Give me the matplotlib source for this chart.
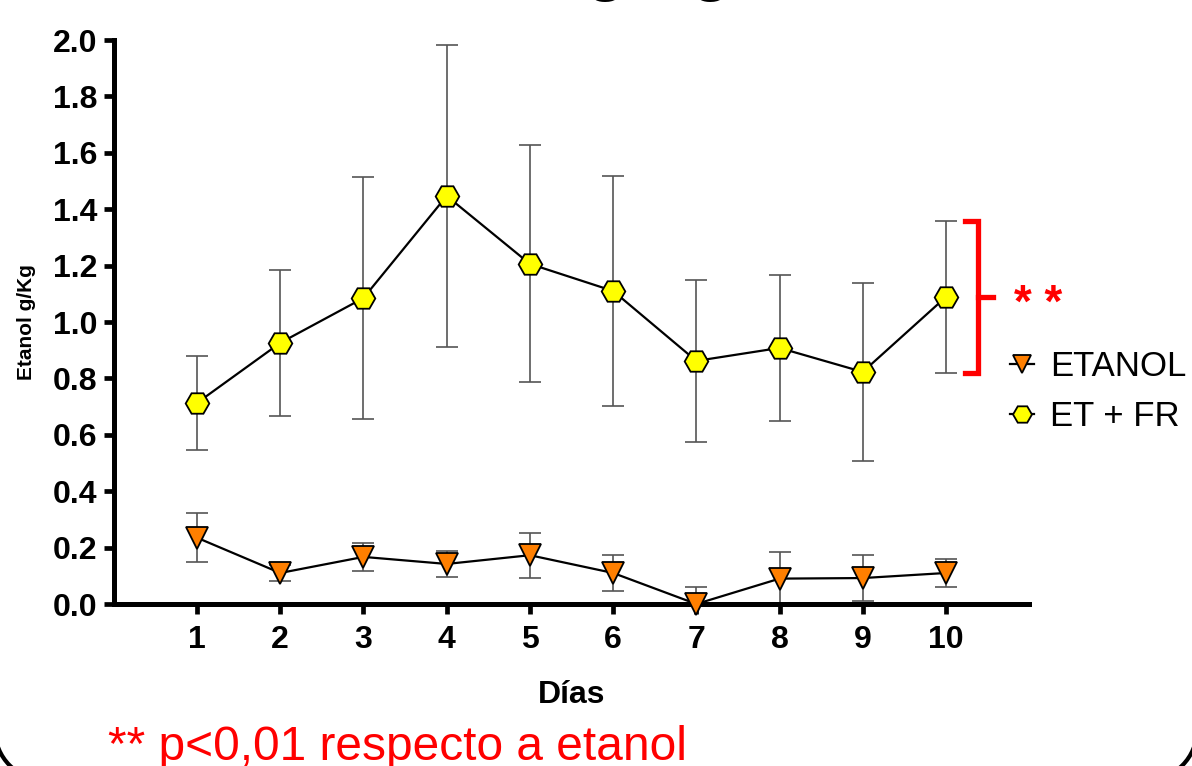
import matplotlib
matplotlib.use("Agg")
import matplotlib.pyplot as plt
from matplotlib.patches import Arc

plt.rcParams['font.family'] = ['Liberation Sans', 'DejaVu Sans']

# datos
dias = [1, 2, 3, 4, 5, 6, 7, 8, 9, 10]
etanol = [0.235, 0.11, 0.167, 0.142, 0.173, 0.11, 0.0, 0.09, 0.092, 0.11]
etanol_sem = [0.086, 0.03, 0.05, 0.046, 0.08, 0.063, 0.06, 0.095, 0.083, 0.048]
et_fr = [0.713, 0.926, 1.085, 1.447, 1.206, 1.110, 0.862, 0.908, 0.823, 1.089]
et_fr_sem = [0.167, 0.26, 0.43, 0.537, 0.42, 0.408, 0.286, 0.26, 0.316, 0.27]
yticks = [0.0, 0.2, 0.4, 0.6, 0.8, 1.0, 1.2, 1.4, 1.6, 1.8, 2.0]

fig = plt.figure(figsize=(11.92, 7.66), dpi=100)
ax = fig.add_axes([113.8 / 1192, 1 - 604 / 766, 915.4 / 1192, 564 / 766])

# barras de error (detras)
ax.errorbar(dias, et_fr, yerr=et_fr_sem, fmt='none', ecolor='#555555',
            elinewidth=1.2, capsize=8, capthick=1.2, zorder=2)
ax.errorbar(dias, etanol, yerr=etanol_sem, fmt='none', ecolor='#555555',
            elinewidth=1.2, capsize=8, capthick=1.2, zorder=2)

# series
l1, = ax.plot(dias, etanol, color='black', lw=1.6, marker='v', ms=16,
              mfc='#FF7F00', mec='black', mew=1.3, zorder=5, clip_on=False)
l2, = ax.plot(dias, et_fr, color='black', lw=1.6, marker='H', ms=17,
              mfc='#FFFF00', mec='black', mew=1.3, zorder=4, clip_on=False)

ax.set_xlim(0, 11)
ax.set_ylim(0, 2.0)
ax.set_xticks(dias)
ax.set_yticks(yticks)
ax.set_yticklabels([f'{v:.1f}' for v in yticks])
for s in ['top', 'right']:
    ax.spines[s].set_visible(False)
for s in ['left', 'bottom']:
    ax.spines[s].set_linewidth(3.6)
ax.tick_params(axis='both', length=7, width=3.4, labelsize=23)
ax.tick_params(axis='y', pad=5)
ax.tick_params(axis='x', pad=8)
for lb in ax.get_xticklabels() + ax.get_yticklabels():
    lb.set_fontweight('bold')

ax.set_xlabel('Días', fontsize=23, fontweight='bold', labelpad=18)
fig.text(27 / 1192, 1 - 322 / 766, 'Etanol g/Kg', rotation=90, fontsize=15,
         fontweight='bold', ha='center', va='center')

# corchete de significancia sobre el dia 10
top = et_fr[-1] + et_fr_sem[-1]
bot = et_fr[-1] - et_fr_sem[-1]
mid = (top + bot) / 2
xb = dias[-1] + 0.39
ax.plot([xb - 0.16, xb, xb, xb - 0.16], [top, top, bot, bot], color='red',
        lw=3.8, clip_on=False, solid_joinstyle='miter')
ax.plot([xb, xb + 0.18], [mid, mid], color='red', lw=3.8, clip_on=False)
ax.text(xb + 0.43, mid - 0.03, '* *', color='red', fontsize=33,
        fontweight='bold', ha='left', va='center', clip_on=False)

fig.legend([l1, l2], ['ETANOL', 'ET + FR'], loc='upper left',
           bbox_to_anchor=(1010 / 1192, 1 - 350 / 766), frameon=False,
           fontsize=25, handlelength=0.7, handletextpad=0.45,
           labelspacing=0.5, borderpad=0, borderaxespad=0, markerscale=0.8)

fig.text(108 / 1192, 1 - 760 / 766, '** p<0,01 respecto a etanol',
         color='red', fontsize=34.5, va='baseline', ha='left')

# titulo cortado arriba
fig.text(731 / 1192, 1 + 11.5 / 766, 'Etanol g/Kg', ha='right', va='baseline',
         fontsize=47, fontweight='bold')

# esquinas redondeadas del marco de la diapositiva
for cx, a1, a2 in [(0.45, 180, 270), (11.47, 270, 360)]:
    arc = Arc((cx, 0.36), 1.0, 1.0, theta1=a1, theta2=a2,
              transform=fig.dpi_scale_trans, color='black', lw=3)
    fig.patches.append(arc)

fig.savefig('out.png', dpi=100)
